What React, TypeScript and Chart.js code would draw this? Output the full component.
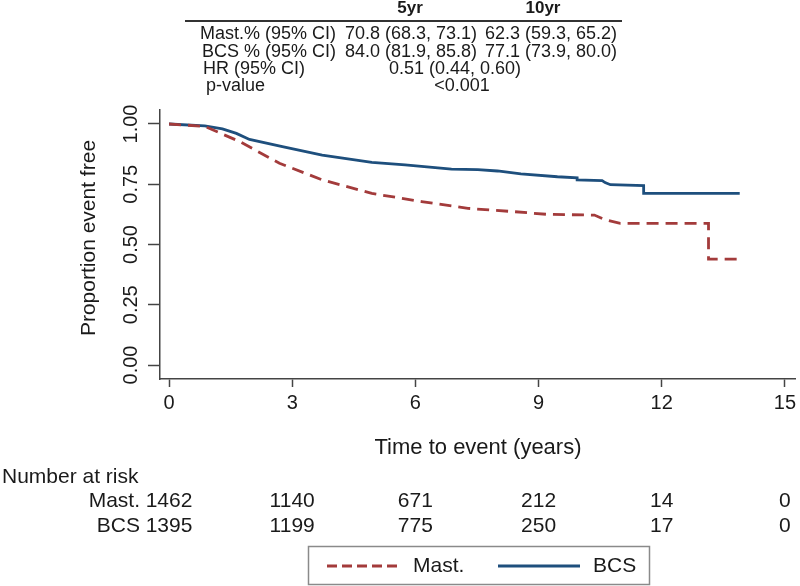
import React, { useEffect, useRef } from "react";
import { Chart, registerables } from "chart.js";

Chart.register(...registerables);

// ---- data ----
const bcsTimes = [0, 0.87, 1.3, 1.64, 1.96, 2.76, 3.73, 4.94, 5.75, 6.88, 7.52, 8.0, 8.57, 9.46, 9.94, 9.94, 10.55, 10.62, 10.75, 11.56, 11.56, 13.9];
const bcsSurv = [1.0, 0.992, 0.98, 0.961, 0.936, 0.906, 0.871, 0.841, 0.83, 0.813, 0.811, 0.805, 0.793, 0.781, 0.777, 0.768, 0.765, 0.757, 0.748, 0.744, 0.712, 0.712];

const mastTimes = [0, 0.87, 1.72, 2.69, 3.73, 4.94, 6.15, 7.28, 7.6, 8.42, 9.22, 10.36, 10.6, 10.99, 13.14, 13.14, 13.9];
const mastSurv = [1.0, 0.99, 0.927, 0.837, 0.768, 0.712, 0.678, 0.65, 0.646, 0.636, 0.625, 0.622, 0.604, 0.588, 0.588, 0.439, 0.439];

const xTickValues = [0, 3, 6, 9, 12, 15];
const yTickValues = [0, 0.25, 0.5, 0.75, 1];

const riskGroups = ["Mast.", "BCS"];
const riskMast = [1462, 1140, 671, 212, 14, 0];
const riskBCS = [1395, 1199, 775, 250, 17, 0];

const tableHeaders = ["5yr", "10yr"];
const tableRowLabels = ["Mast.% (95% CI)", "BCS % (95% CI)", "HR (95% CI)", "p-value"];
const tableMast = ["70.8 (68.3, 73.1)", "62.3 (59.3, 65.2)"];
const tableBCS = ["84.0 (81.9, 85.8)", "77.1 (73.9, 80.0)"];
const tableHR = "0.51 (0.44, 0.60)";
const tableP = "<0.001";

const MAST_COLOR = "#a33b3b";
const BCS_COLOR = "#1e4f7d";
const TEXT = "#1a1a1a";
const FONT = "'Liberation Sans', Arial, Helvetica, sans-serif";

const extrasPlugin = {
  id: "extras",
  afterDraw(chart: any) {
    const ctx: CanvasRenderingContext2D = chart.ctx;
    const xs = chart.scales.x;
    ctx.save();
    ctx.fillStyle = TEXT;
    ctx.textBaseline = "middle";

    // --- top table ---
    ctx.font = `bold 17px ${FONT}`;
    ctx.textAlign = "center";
    ctx.fillText(tableHeaders[0], 410, 8);
    ctx.fillText(tableHeaders[1], 543, 8);
    ctx.strokeStyle = "#333";
    ctx.lineWidth = 2;
    ctx.beginPath();
    ctx.moveTo(185, 21);
    ctx.lineTo(622, 21);
    ctx.stroke();

    ctx.font = `18px ${FONT}`;
    const rowY = [34, 52, 69, 86];
    const labelX = [200, 202, 203, 206];
    ctx.textAlign = "left";
    tableRowLabels.forEach((l, i) => ctx.fillText(l, labelX[i], rowY[i]));
    ctx.textAlign = "center";
    ctx.fillText(tableMast[0], 411, rowY[0]);
    ctx.fillText(tableMast[1], 551, rowY[0]);
    ctx.fillText(tableBCS[0], 411, rowY[1]);
    ctx.fillText(tableBCS[1], 551, rowY[1]);
    ctx.fillText(tableHR, 455, rowY[2]);
    ctx.fillText(tableP, 462, rowY[3]);

    // --- axis titles ---
    ctx.font = `21px ${FONT}`;
    ctx.save();
    ctx.translate(89, 238);
    ctx.rotate(-Math.PI / 2);
    ctx.textAlign = "center";
    ctx.fillText("Proportion event free", 0, 0);
    ctx.restore();
    ctx.font = `22px ${FONT}`;
    ctx.textAlign = "center";
    ctx.fillText("Time to event (years)", 478, 448);

    // --- number at risk ---
    ctx.font = `21px ${FONT}`;
    ctx.textAlign = "left";
    ctx.fillText("Number at risk", 2, 477);
    const riskY = [501, 526];
    ctx.textAlign = "right";
    ctx.fillText(riskGroups[0], 140, riskY[0]);
    ctx.fillText(riskGroups[1], 140, riskY[1]);
    ctx.textAlign = "center";
    xTickValues.forEach((t, i) => {
      const px = xs.getPixelForValue(t);
      ctx.fillText(String(riskMast[i]), px, riskY[0]);
      ctx.fillText(String(riskBCS[i]), px, riskY[1]);
    });

    // --- legend ---
    ctx.strokeStyle = "#8a8a8a";
    ctx.lineWidth = 1.5;
    ctx.strokeRect(308.5, 546.5, 341, 38);
    const ly = 566;
    ctx.lineWidth = 3;
    ctx.strokeStyle = MAST_COLOR;
    ctx.setLineDash([10, 5]);
    ctx.beginPath();
    ctx.moveTo(327, ly);
    ctx.lineTo(400, ly);
    ctx.stroke();
    ctx.setLineDash([]);
    ctx.strokeStyle = BCS_COLOR;
    ctx.beginPath();
    ctx.moveTo(498, ly);
    ctx.lineTo(580, ly);
    ctx.stroke();
    ctx.fillStyle = TEXT;
    ctx.font = `21px ${FONT}`;
    ctx.textAlign = "left";
    ctx.fillText("Mast.", 413, ly);
    ctx.fillText("BCS", 593, ly);

    ctx.restore();
  },
};

export default function App() {
  const canvasRef = useRef<HTMLCanvasElement | null>(null);

  useEffect(() => {
    document.body.style.margin = "0";
    const canvas = canvasRef.current;
    if (!canvas) return;
    const chart = new Chart(canvas, {
      type: "line",
      data: {
        datasets: [
          {
            label: "Mast.",
            data: mastTimes.map((t, i) => ({ x: t, y: mastSurv[i] })),
            borderColor: MAST_COLOR,
            borderWidth: 2.8,
            borderDash: [12, 7],
            pointRadius: 0,
            fill: false,
            tension: 0,
          },
          {
            label: "BCS",
            data: bcsTimes.map((t, i) => ({ x: t, y: bcsSurv[i] })),
            borderColor: BCS_COLOR,
            borderWidth: 2.8,
            pointRadius: 0,
            fill: false,
            tension: 0,
          },
        ],
      },
      options: {
        animation: false,
        responsive: false,
        devicePixelRatio: 1,
        events: [],
        layout: { padding: { top: 110, left: 0, right: 0, bottom: 0 } },
        plugins: {
          legend: { display: false },
          tooltip: { enabled: false },
        },
        scales: {
          x: {
            type: "linear",
            min: -0.22,
            max: 15.27,
            afterBuildTicks: (axis: any) => {
              axis.ticks = xTickValues.map((v) => ({ value: v }));
            },
            afterFit: (axis: any) => {
              axis.height = 207;
            },
            grid: {
              display: true,
              drawOnChartArea: false,
              drawTicks: true,
              tickLength: 8,
              tickColor: "#444",
              tickWidth: 1.5,
            },
            border: { display: true, color: "#444", width: 1.5 },
            ticks: {
              color: TEXT,
              font: { family: FONT, size: 20 },
              padding: 4,
              maxRotation: 0,
              minRotation: 0,
              callback: (v: any) => String(v),
            },
          },
          y: {
            type: "linear",
            min: -0.058,
            max: 1.058,
            afterBuildTicks: (axis: any) => {
              axis.ticks = yTickValues.map((v) => ({ value: v }));
            },
            afterFit: (axis: any) => {
              axis.width = 160;
            },
            grid: {
              display: true,
              drawOnChartArea: false,
              drawTicks: true,
              tickLength: 12,
              tickColor: "#444",
              tickWidth: 1.5,
            },
            border: { display: true, color: "#444", width: 1.5 },
            ticks: {
              color: TEXT,
              font: { family: FONT, size: 20 },
              minRotation: 90,
              maxRotation: 90,
              crossAlign: "center",
              padding: -3,
              callback: (v: any) => Number(v).toFixed(2),
            },
          },
        },
      },
      plugins: [extrasPlugin],
    } as any);
    return () => chart.destroy();
  }, []);

  return (
    <div style={{ width: 800, height: 586, background: "#fff" }}>
      <canvas ref={canvasRef} width={800} height={586} style={{ display: "block" }} />
    </div>
  );
}
